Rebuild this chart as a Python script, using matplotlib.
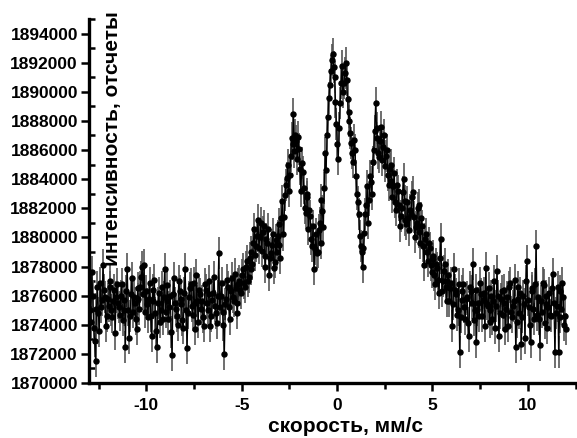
import numpy as np
import matplotlib
matplotlib.use("Agg")
import matplotlib.pyplot as plt
from matplotlib.ticker import MultipleLocator, FormatStrFormatter

# ---- data (velocity grid and counts in thousands) ----
v_start, v_end = -12.95, 12.0
counts_k = [
    1875.0, 1874.2, 1877.6, 1876.0, 1873.8, 1872.9, 1871.5, 1875.1, 1876.6, 1874.8, 1873.6, 1876.9, 1875.2, 1875.7, 1878.1, 1876.4, 1875.9, 1873.9, 1874.6, 1875.8,
    1875.3, 1877.0, 1876.6, 1875.0, 1874.5, 1875.6, 1876.4, 1873.4, 1875.9, 1876.8, 1875.5, 1875.2, 1874.7, 1876.0, 1876.8, 1874.3, 1875.0, 1875.7, 1872.5, 1876.3,
    1877.8, 1875.0, 1873.1, 1874.6, 1876.1, 1877.2, 1874.9, 1875.9, 1875.5, 1874.4, 1873.7, 1876.5, 1875.8, 1875.1, 1876.6, 1877.3, 1878.0, 1876.1, 1878.1, 1874.9,
    1876.3, 1875.4, 1874.5, 1875.8, 1876.9, 1874.6, 1873.2, 1876.4, 1875.6, 1877.1, 1874.8, 1873.6, 1872.5, 1875.5, 1876.2, 1874.2, 1875.0, 1876.6, 1874.4, 1875.9,
    1877.8, 1874.9, 1875.6, 1876.7, 1874.4, 1875.2, 1876.0, 1873.5, 1871.9, 1876.1, 1877.2, 1875.5, 1875.1, 1874.6, 1874.0, 1877.0, 1876.3, 1875.8, 1875.4, 1874.3,
    1873.8, 1876.2, 1877.8, 1875.0, 1872.4, 1874.8, 1875.9, 1876.5, 1876.8, 1875.3, 1874.7, 1876.9, 1875.5, 1873.7, 1877.4, 1875.6, 1874.2, 1876.4, 1876.1, 1875.1,
    1875.6, 1874.5, 1873.9, 1876.8, 1876.4, 1875.5, 1875.0, 1876.1, 1877.0, 1873.9, 1874.6, 1875.7, 1876.2, 1877.3, 1875.3, 1874.8, 1874.1, 1876.0, 1878.9, 1875.2,
    1876.0, 1876.9, 1874.9, 1874.0, 1872.0, 1875.4, 1875.8, 1877.1, 1876.6, 1875.2, 1874.4, 1876.3, 1877.2, 1875.9, 1875.6, 1877.5, 1876.5, 1875.5, 1874.8, 1876.8,
    1877.0, 1876.4, 1876.2, 1877.4, 1877.8, 1876.9, 1876.6, 1878.0, 1878.4, 1877.0, 1877.3, 1878.6, 1879.0, 1877.8, 1878.2, 1879.6, 1880.6, 1878.8, 1879.4, 1880.1,
    1881.2, 1879.3, 1880.0, 1881.0, 1879.1, 1880.4, 1880.8, 1878.7, 1878.0, 1879.9, 1879.6, 1880.6, 1877.4, 1878.6, 1878.9, 1879.5, 1880.2, 1877.9, 1878.3, 1879.8,
    1879.0, 1880.1, 1880.9, 1879.5, 1878.6, 1881.3, 1882.5, 1880.2, 1881.4, 1882.9, 1883.6, 1884.1, 1885.0, 1883.2, 1884.3, 1885.6, 1886.8, 1886.4, 1888.5, 1885.9,
    1887.0, 1886.6, 1885.4, 1886.9, 1886.1, 1884.7, 1883.2, 1885.1, 1884.5, 1883.4, 1882.0, 1881.7, 1882.8, 1883.0, 1880.6, 1881.9, 1881.5, 1879.9, 1879.4, 1880.8,
    1877.8, 1879.2, 1880.2, 1878.9, 1879.0, 1880.5, 1881.0, 1879.6, 1882.6, 1881.8, 1880.7, 1883.4, 1885.8, 1884.6, 1887.0, 1888.3, 1889.6, 1890.5, 1891.4, 1892.2,
    1892.6, 1891.7, 1891.0, 1889.3, 1887.8, 1886.4, 1885.4, 1887.5, 1889.2, 1890.6, 1891.8, 1890.0, 1890.6, 1891.3, 1892.0, 1890.8, 1889.5, 1888.0, 1888.6, 1887.2,
    1886.5, 1885.8, 1885.2, 1886.7, 1886.0, 1884.2, 1883.0, 1882.4, 1881.6, 1880.1, 1879.4, 1879.0, 1878.0, 1879.3, 1880.3, 1881.6, 1882.2, 1883.5, 1881.0, 1882.6,
    1884.2, 1883.8, 1883.0, 1885.2, 1886.0, 1887.3, 1889.2, 1887.5, 1886.8, 1885.8, 1885.5, 1886.6, 1887.6, 1885.3, 1886.2, 1887.0, 1884.9, 1885.6, 1886.0, 1884.3,
    1883.6, 1884.7, 1885.0, 1883.9, 1882.8, 1883.5, 1884.4, 1882.4, 1881.9, 1883.6, 1883.2, 1882.2, 1880.8, 1881.5, 1882.0, 1883.1, 1884.0, 1882.5, 1881.2, 1880.9,
    1882.4, 1881.3, 1880.5, 1881.9, 1881.6, 1882.8, 1883.1, 1881.4, 1880.0, 1880.7, 1881.0, 1882.0, 1882.2, 1880.4, 1879.6, 1881.3, 1880.8, 1879.4, 1878.1, 1879.9,
    1880.2, 1879.0, 1878.4, 1879.6, 1879.3, 1878.1, 1877.6, 1878.7, 1878.5, 1877.4, 1876.8, 1878.2, 1877.9, 1877.1, 1876.2, 1878.6, 1879.9, 1876.3, 1877.0, 1877.7,
    1878.2, 1876.6, 1875.6, 1877.0, 1877.4, 1875.6, 1876.5, 1876.9, 1873.9, 1875.4, 1877.8, 1876.4, 1876.1, 1874.7, 1875.0, 1876.8, 1872.1, 1874.5, 1875.7, 1876.3,
    1876.8, 1875.2, 1874.4, 1875.8, 1875.9, 1874.1, 1873.2, 1876.6, 1876.3, 1875.5, 1878.2, 1874.3, 1875.0, 1876.4, 1872.8, 1875.0, 1875.5, 1874.6, 1876.9, 1876.1,
    1874.6, 1875.7, 1876.2, 1873.9, 1877.9, 1875.4, 1875.3, 1876.5, 1874.2, 1875.0, 1876.0, 1874.4, 1875.6, 1877.0, 1873.8, 1875.3, 1877.7, 1876.0, 1873.2, 1874.8,
    1875.8, 1876.3, 1874.7, 1875.5, 1876.4, 1873.7, 1875.1, 1875.9, 1873.9, 1876.6, 1876.9, 1874.9, 1874.5, 1875.3, 1875.6, 1877.1, 1872.5, 1874.2, 1876.6, 1875.8,
    1874.8, 1876.2, 1872.7, 1874.5, 1876.0, 1875.4, 1873.1, 1877.0, 1878.4, 1875.7, 1875.2, 1874.0, 1872.8, 1876.3, 1876.5, 1875.1, 1874.4, 1876.8, 1879.4, 1874.7,
    1875.9, 1874.4, 1872.6, 1875.6, 1874.9, 1876.9, 1876.7, 1874.1, 1875.4, 1876.0, 1873.8, 1875.2, 1876.2, 1874.7, 1874.6, 1876.5, 1877.5, 1875.5, 1872.1, 1874.8,
    1875.3, 1876.6, 1872.1, 1874.5, 1876.3, 1875.1, 1876.9, 1875.9, 1874.0, 1874.6, 1873.7,
]
err_counts = 1100
x_major = [-10, -5, 0, 5, 10]
y_major = list(range(1870000, 1894001, 2000))
x_label = "скорость, мм/с"
y_label = "интенсивность, отсчеты"

velocity = np.linspace(v_start, v_end, len(counts_k))
counts = np.array(counts_k) * 1000.0

plt.rcParams['font.family'] = ['Liberation Sans', 'DejaVu Sans']
plt.rcParams['font.weight'] = 'bold'

W, H = 577, 438
fig = plt.figure(figsize=(W / 100, H / 100), dpi=100)
ax = fig.add_axes([89 / W, (H - 383) / H, (575.6 - 89) / W, (383 - 19) / H])

ax.errorbar(velocity, counts, yerr=err_counts, fmt='o-', color='black',
            ms=3.6, lw=0.9, ecolor='#555555', elinewidth=1.2, capsize=0)

ax.set_xlim(-13, 12.5)
ax.set_ylim(1870000, 1895000)
ax.set_xticks(x_major)
ax.set_yticks(y_major)
ax.xaxis.set_minor_locator(MultipleLocator(2.5))
ax.yaxis.set_minor_locator(MultipleLocator(1000))
ax.yaxis.set_major_formatter(FormatStrFormatter('%d'))
ax.xaxis.set_major_formatter(FormatStrFormatter('%d'))

for s in ['top', 'right']:
    ax.spines[s].set_visible(False)
for s in ['left', 'bottom']:
    ax.spines[s].set_linewidth(2.4)

ax.tick_params(axis='both', which='major', direction='out', length=5.5, width=1.8,
               labelsize=12.5, pad=2.5)
ax.tick_params(axis='x', which='major', pad=5)
ax.tick_params(axis='x', which='minor', direction='out', length=4.5, width=1.8)
ax.tick_params(axis='y', which='minor', direction='in', length=4, width=1.8)
for lab in ax.get_xticklabels() + ax.get_yticklabels():
    lab.set_fontweight('bold')

fig.text(345.5 / W, (H - 426) / H, x_label, ha='center', va='center',
         fontsize=15, fontweight='bold')
fig.text(112.5 / W, (H - 139) / H, y_label, ha='center', va='center',
         rotation=90, fontsize=15, fontweight='bold')

fig.savefig('out.png', dpi=100)
